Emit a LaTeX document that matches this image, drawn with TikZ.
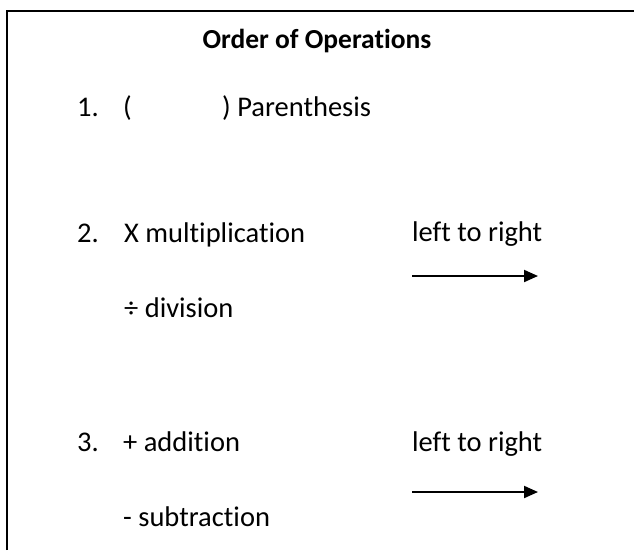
\documentclass[tikz,border=0pt]{standalone}
\usepackage{fontspec}
\setmainfont{Carlito}[Ligatures=NoCommon]
\usetikzlibrary{arrows.meta}
\usetikzlibrary{positioning}

\begin{document}
\begin{tikzpicture}[x=1pt, y=-1pt,
    txt/.style = {anchor=base west, inner sep=0pt, font=\fontsize{28.5}{32}\selectfont},
    ttl/.style = {anchor=base, inner sep=0pt, font=\fontsize{27.5}{32}\selectfont\bfseries},
    ltr/.style = {-{Triangle[length=14pt, width=12pt]}, line width=2pt}]
      \useasboundingbox (0,0) rectangle (634,550);

      % frame, open on the right and at the bottom
      \draw[line width=1.6pt] (7,550) -- (7,11) -- (634,11);

      \node[ttl] (title) at (317,48) {Order of Operations};

      \node[txt] (num1) at (77,116) {1.};
      \node[txt] (lparen) at (123,116) {(};
      \node[txt] (rparen) at (222,116) {) Parenthesis};

      \node[txt] (num2) at (77,242) {2.};
      \node[txt] (mult) at (124,242) {X multiplication};
      \node[txt] (div) at (124,317) {÷ division};
      \node[txt] (ltr2) at (412,241) {left to right};

      \node[txt] (num3) at (77,451) {3.};
      \node[txt] (add) at (123,451) {+ addition};
      \node[txt] (sub) at (123,526) {- subtraction};
      \node[txt] (ltr3) at (412,451) {left to right};

      \coordinate (a2s) at (412,276);
      \coordinate (a2e) at (538,276);
      \coordinate (a3s) at (412,492);
      \coordinate (a3e) at (538,492);
      \draw[ltr] (a2s) -- (a2e);
      \draw[ltr] (a3s) -- (a3e);
\end{tikzpicture}
\end{document}
